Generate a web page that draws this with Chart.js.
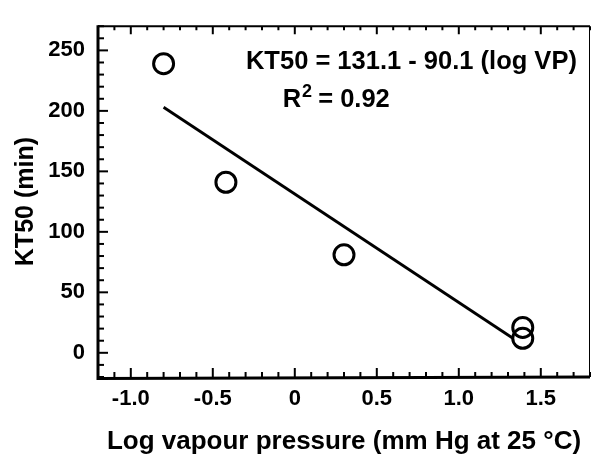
<!DOCTYPE html>
<html>
<head>
<meta charset="utf-8">
<script src="https://cdn.jsdelivr.net/npm/chart.js@4.4.1/dist/chart.umd.min.js"></script>
<style>
  html, body { margin: 0; padding: 0; background: #fff; overflow: hidden; }
  canvas { display: block; }
</style>
</head>
<body>
<canvas id="kt50Chart" width="603" height="455"></canvas>
<script>
// values
const vapourX = [-0.80, -0.42, 0.30, 1.39, 1.39];
const kt50Y = [239, 141, 81, 21, 12];
const fitX = [-0.80, 1.33];
const fitY = [203, 12];
const xTicks = [-1.0, -0.5, 0, 0.5, 1.0, 1.5];
const xTickLabels = ["-1.0", "-0.5", "0", "0.5", "1.0", "1.5"];
const yTicks = [0, 50, 100, 150, 200, 250];
const eqText = "KT50 = 131.1 - 90.1 (log VP)";
const r2Text = " = 0.92";

const FONT = "'Liberation Sans', Arial, sans-serif";

// frame + inward tick marks, plus the equation text
const framePlugin = {
    id: "frame",
    afterDraw(chart) {
        const { ctx, chartArea: a, scales } = chart;
        const xs = scales.x, ys = scales.y;
        ctx.save();
        ctx.strokeStyle = "#000";
        ctx.lineCap = "butt";

        ctx.lineWidth = 2;
        for (let i = -12; i <= 18; i++) {
            const px = xs.getPixelForValue(i / 10);
            const len = i % 5 === 0 ? 9 : 5;
            ctx.beginPath();
            ctx.moveTo(px, a.bottom); ctx.lineTo(px, a.bottom - len);
            ctx.moveTo(px, a.top); ctx.lineTo(px, a.top + len - 1);
            ctx.stroke();
        }
        for (let v = -20; v <= 270; v += 10) {
            const py = ys.getPixelForValue(v);
            const len = v % 50 === 0 ? 10 : 6;
            ctx.beginPath();
            ctx.moveTo(a.left, py); ctx.lineTo(a.left + len, py);
            ctx.stroke();
        }

        ctx.lineWidth = 3;
        ctx.beginPath();
        ctx.moveTo(a.left, a.top - 1); ctx.lineTo(a.left, a.bottom + 1.5);
        ctx.lineTo(a.right, a.bottom);
        ctx.stroke();
        ctx.lineWidth = 2;
        ctx.beginPath();
        ctx.moveTo(a.left, a.top); ctx.lineTo(a.right, a.top);
        ctx.stroke();
        ctx.lineWidth = 1;
        ctx.beginPath();
        ctx.moveTo(a.right - 0.5, a.top); ctx.lineTo(a.right - 0.5, a.bottom);
        ctx.stroke();

        ctx.fillStyle = "#000";
        ctx.textBaseline = "alphabetic";
        ctx.font = "bold 25.5px " + FONT;
        ctx.textAlign = "right";
        ctx.fillText(eqText, xs.getPixelForValue(1.72), ys.getPixelForValue(235));

        ctx.textAlign = "left";
        let rx = xs.getPixelForValue(-0.074);
        const ry = ys.getPixelForValue(203);
        ctx.fillText("R", rx, ry);
        rx += ctx.measureText("R").width;
        ctx.font = "bold 18px " + FONT;
        ctx.fillText("2", rx + 1, ry - 10);
        rx += ctx.measureText("2").width;
        ctx.font = "bold 25.5px " + FONT;
        ctx.fillText(r2Text, rx, ry);
        ctx.restore();
    }
};

new Chart(document.getElementById("kt50Chart"), {
    type: "scatter",
    data: {
        datasets: [
            {
                label: "KT50",
                data: vapourX.map((x, i) => ({ x, y: kt50Y[i] })),
                pointStyle: "circle",
                pointRadius: 10,
                pointBorderWidth: 3,
                pointBackgroundColor: "rgba(0,0,0,0)",
                pointBorderColor: "#000",
                showLine: false
            },
            {
                label: "fit",
                data: fitX.map((x, i) => ({ x, y: fitY[i] })),
                showLine: true,
                borderColor: "#000",
                borderWidth: 2.8,
                pointRadius: 0
            }
        ]
    },
    options: {
        responsive: false,
        animation: false,
        devicePixelRatio: 1,
        layout: { padding: { top: 15, right: 1, left: 0, bottom: 0 } },
        plugins: { legend: { display: false }, tooltip: { enabled: false } },
        scales: {
            x: {
                type: "linear",
                min: -1.2,
                max: 1.8,
                afterFit: s => { s.height = 78; },
                afterBuildTicks: s => { s.ticks = xTicks.map(v => ({ value: v })); },
                grid: { display: false, drawTicks: false },
                border: { display: false },
                ticks: {
                    color: "#000",
                    padding: 9,
                    font: { family: FONT, size: 22, weight: "bold" },
                    callback: v => xTickLabels[xTicks.indexOf(v)] ?? ""
                },
                title: {
                    display: true,
                    text: "Log vapour pressure (mm Hg at 25 °C)",
                    color: "#000",
                    padding: { top: 0, bottom: -2 },
                    font: { family: FONT, size: 26, weight: "bold" }
                }
            },
            y: {
                type: "linear",
                min: -20,
                max: 270,
                afterFit: s => { s.width = 98; },
                afterBuildTicks: s => { s.ticks = yTicks.map(v => ({ value: v })); },
                grid: { display: false, drawTicks: false },
                border: { display: false },
                ticks: {
                    color: "#000",
                    padding: 13,
                    font: { family: FONT, size: 22, weight: "bold" }
                },
                title: {
                    display: true,
                    text: "KT50 (min)",
                    color: "#000",
                    padding: { top: 11, bottom: 0 },
                    font: { family: FONT, size: 25, weight: "bold" }
                }
            }
        }
    },
    plugins: [framePlugin]
});
</script>
</body>
</html>
